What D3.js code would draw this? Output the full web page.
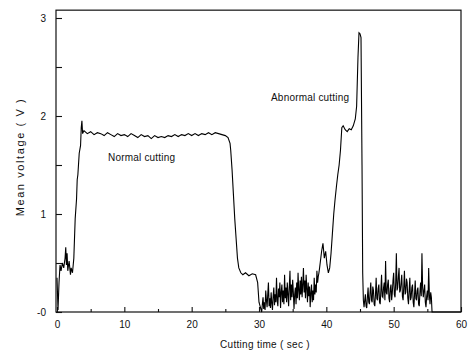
<!DOCTYPE html>
<html>
<head>
<meta charset="utf-8">
<script src="https://cdn.jsdelivr.net/npm/d3@7"></script>
<style>
  body { margin: 0; background: #fff; }
  svg text { font-family: "Liberation Sans", Arial, sans-serif; fill: #111; }
</style>
</head>
<body>
<script>
// start-up: sits near 0.4-0.6 then climbs to the cutting level
var startTime = [0, 0.15, 0.3, 0.45, 0.6, 0.8, 1.0, 1.2, 1.3, 1.4, 1.5, 1.6, 1.8, 2.0, 2.1, 2.3, 2.5, 2.7, 2.9, 3.0, 3.1, 3.3, 3.5, 3.6, 3.7, 3.8];
var startVolt = [0.35, 0.02, 0.30, 0.48, 0.42, 0.50, 0.45, 0.55, 0.66, 0.48, 0.60, 0.42, 0.52, 0.38, 0.45, 0.40, 0.55, 0.95, 1.15, 1.35, 1.40, 1.62, 1.70, 1.88, 1.95, 1.82];

// normal cutting plateau
var normalTime = [4.0, 4.5, 5.0, 5.5, 6.0, 6.5, 7.0, 7.5, 8.0, 8.5, 9.0, 9.5, 10, 10.5, 11, 11.5, 12, 12.5, 13, 13.5, 14, 14.5, 15, 15.5, 16, 16.5, 17, 17.5, 18, 18.5, 19, 19.5, 20, 20.5, 21, 21.5, 22, 22.5, 23, 23.5, 24, 24.5, 25, 25.4, 25.7];
var normalVolt = [1.85, 1.82, 1.84, 1.81, 1.83, 1.82, 1.80, 1.83, 1.81, 1.79, 1.82, 1.80, 1.81, 1.79, 1.82, 1.80, 1.78, 1.81, 1.79, 1.80, 1.77, 1.80, 1.78, 1.79, 1.78, 1.80, 1.79, 1.81, 1.79, 1.81, 1.80, 1.82, 1.80, 1.82, 1.80, 1.82, 1.81, 1.83, 1.81, 1.83, 1.82, 1.81, 1.80, 1.78, 1.72];

// tool leaves the work, low level, then idle noise
var dropTime = [25.8, 26.0, 26.2, 26.4, 26.6, 26.8, 27.0, 27.3, 27.6, 28.0, 28.5, 29.0, 29.5, 29.8, 30.0, 30.2];
var dropVolt = [1.65, 1.45, 1.20, 0.95, 0.75, 0.55, 0.45, 0.40, 0.38, 0.40, 0.37, 0.39, 0.38, 0.30, 0.10, 0.05];

var idleTime = [30.4, 30.5, 30.6, 30.7, 30.8, 30.9, 31.0, 31.1, 31.2, 31.3, 31.4, 31.5, 31.6, 31.7, 31.8, 31.9,
  32.0, 32.1, 32.2, 32.3, 32.4, 32.5, 32.6, 32.7, 32.8, 32.9, 33.0, 33.1, 33.2, 33.3, 33.4, 33.5, 33.6, 33.7, 33.8, 33.9,
  34.0, 34.1, 34.2, 34.3, 34.4, 34.5, 34.6, 34.7, 34.8, 34.9, 35.0, 35.1, 35.2, 35.3, 35.4, 35.5, 35.6, 35.7, 35.8, 35.9,
  36.0, 36.1, 36.2, 36.3, 36.4, 36.5, 36.6, 36.7, 36.8, 36.9, 37.0, 37.1, 37.2, 37.3, 37.4, 37.5, 37.6, 37.7, 37.8, 37.9,
  38.0, 38.1, 38.2, 38.3, 38.4, 38.5, 38.6, 38.7, 38.8, 38.9];
var idleVolt = [0.00, 0.08, 0.15, 0.03, 0.10, 0.02, 0.22, 0.12, 0.05, 0.18, 0.30, 0.06, 0.14, 0.04, 0.20, 0.09,
  0.02, 0.16, 0.25, 0.07, 0.18, 0.10, 0.35, 0.12, 0.06, 0.24, 0.15, 0.30, 0.04, 0.20, 0.28, 0.10, 0.22, 0.08, 0.38, 0.14,
  0.25, 0.10, 0.30, 0.18, 0.06, 0.26, 0.42, 0.12, 0.28, 0.15, 0.33, 0.20, 0.03, 0.18, 0.25, 0.08, 0.30, 0.14, 0.40, 0.22,
  0.12, 0.32, 0.18, 0.36, 0.15, 0.28, 0.45, 0.20, 0.32, 0.14, 0.38, 0.24, 0.10, 0.30, 0.16, 0.26, 0.05, 0.20, 0.28, 0.10,
  0.22, 0.12, 0.35, 0.18, 0.28, 0.20, 0.42, 0.30, 0.36, 0.40];

// abnormal cutting: step up, spike near 2.85 V, then collapse
var abnormalTime = [39.0, 39.3, 39.5, 39.7, 39.9, 40.1, 40.3, 40.5, 40.7, 40.9, 41.1, 41.3, 41.5, 41.7, 41.9, 42.1, 42.3, 42.5, 42.8, 43.1, 43.4, 43.7, 44.0, 44.3, 44.5, 44.7, 44.85, 45.0, 45.15, 45.3, 45.4, 45.5];
var abnormalVolt = [0.45, 0.62, 0.70, 0.55, 0.62, 0.48, 0.40, 0.45, 0.60, 0.80, 1.00, 1.15, 1.28, 1.40, 1.50, 1.65, 1.88, 1.90, 1.86, 1.84, 1.87, 1.86, 1.90, 1.97, 2.10, 2.60, 2.85, 2.84, 2.80, 1.50, 0.40, 0.12];

var tailTime = [45.6, 45.7, 45.8, 45.9, 46.0, 46.1, 46.2, 46.3, 46.4, 46.5, 46.6, 46.7, 46.8, 46.9,
  47.0, 47.1, 47.2, 47.3, 47.4, 47.5, 47.6, 47.7, 47.8, 47.9, 48.0, 48.1, 48.2, 48.3, 48.4, 48.5, 48.6, 48.7, 48.8, 48.9,
  49.0, 49.1, 49.2, 49.3, 49.4, 49.5, 49.6, 49.7, 49.8, 49.9, 50.0, 50.1, 50.2, 50.3, 50.4, 50.5, 50.6, 50.7, 50.8, 50.9,
  51.0, 51.1, 51.2, 51.3, 51.4, 51.5, 51.6, 51.7, 51.8, 51.9, 52.0, 52.1, 52.2, 52.3, 52.4, 52.5, 52.6, 52.7, 52.8, 52.9,
  53.0, 53.1, 53.2, 53.3, 53.4, 53.5, 53.6, 53.7, 53.8, 53.9, 54.0, 54.1, 54.2, 54.3, 54.4, 54.5, 54.6, 54.7, 54.8, 54.9,
  55.0, 55.1, 55.2, 55.3, 55.4, 55.5, 55.6, 55.7, 60];
var tailVolt = [0.05, 0.12, 0.18, 0.06, 0.04, 0.15, 0.25, 0.10, 0.08, 0.20, 0.30, 0.12, 0.10, 0.26,
  0.22, 0.08, 0.06, 0.18, 0.35, 0.14, 0.12, 0.24, 0.28, 0.10, 0.08, 0.22, 0.38, 0.16, 0.15, 0.25, 0.30, 0.12, 0.52, 0.20,
  0.18, 0.28, 0.33, 0.14, 0.10, 0.24, 0.28, 0.12, 0.20, 0.32, 0.40, 0.18, 0.15, 0.30, 0.60, 0.22, 0.25, 0.36, 0.45, 0.20,
  0.22, 0.30, 0.38, 0.16, 0.12, 0.26, 0.42, 0.18, 0.20, 0.34, 0.30, 0.14, 0.08, 0.22, 0.35, 0.12, 0.15, 0.25, 0.28, 0.10,
  0.05, 0.18, 0.32, 0.14, 0.12, 0.22, 0.25, 0.08, 0.06, 0.20, 0.30, 0.16, 0.60, 0.25, 0.15, 0.22, 0.28, 0.10, 0.05, 0.16,
  0.22, 0.12, 0.45, 0.18, 0.08, 0.20, 0.15, 0.0, 0.0];

var xTicks = [0, 10, 20, 30, 40, 50, 60];
var xMinor = [5, 15, 25, 35, 45, 55];
var yTicks = [0, 1, 2, 3];
var yTickLabels = ["-0", "1", "2", "3"];
var yMinor = [0.5, 1.5, 2.5];

var width = 470,
  height = 357;

var svg = d3
  .select("body")
  .append("svg")
  .attr("width", width)
  .attr("height", height);

var x = d3.scaleLinear().domain([0, 60]).range([57, 461]);
var y = d3.scaleLinear().domain([0, 3]).range([312, 18]);

// join the segments into one trace
var times = [].concat(startTime, normalTime, dropTime, idleTime, abnormalTime, tailTime);
var volts = [].concat(startVolt, normalVolt, dropVolt, idleVolt, abnormalVolt, tailVolt);
var trace = times.map(function (t, i) {
  return [t, volts[i]];
});

// frame
svg
  .append("rect")
  .attr("x", x(0) - 1)
  .attr("y", y(3.08))
  .attr("width", x(60) - x(0) + 1)
  .attr("height", y(0) - y(3.08))
  .attr("fill", "none")
  .attr("stroke", "#111")
  .attr("stroke-width", 1.2);

// inward ticks
var yAxis = d3.axisLeft(y).tickValues(yTicks).tickSize(-6).tickPadding(10)
  .tickFormat(function (d, i) { return yTickLabels[i]; });
svg.append("g").attr("transform", "translate(" + (x(0) - 1) + ",0)").call(yAxis);
svg.append("g").attr("transform", "translate(" + (x(0) - 1) + ",0)")
  .call(d3.axisLeft(y).tickValues(yMinor).tickSize(-6).tickFormat(""));

var xAxis = d3.axisBottom(x).tickValues(xTicks).tickSize(-5).tickPadding(9);
svg.append("g").attr("transform", "translate(0," + y(0) + ")").call(xAxis);
svg.append("g").attr("transform", "translate(0," + y(0) + ")")
  .call(d3.axisBottom(x).tickValues(xMinor).tickSize(-3).tickFormat(""));

svg.selectAll(".domain").remove();
svg.selectAll(".tick line").attr("stroke", "#111").attr("stroke-width", 1.1);
svg.selectAll(".tick text").style("font-size", "10px").attr("fill", "#111");

// voltage trace
var line = d3.line()
  .x(function (d) { return x(d[0]); })
  .y(function (d) { return y(d[1]); });

svg
  .append("path")
  .datum(trace)
  .attr("d", line)
  .attr("fill", "none")
  .attr("stroke", "#000")
  .attr("stroke-width", 1.1)
  .attr("stroke-linejoin", "miter");

// annotations
svg.append("text").attr("x", 108).attr("y", 161)
  .style("font-size", "10px").style("letter-spacing", "0.2px")
  .text("Normal cutting");
svg.append("text").attr("x", 271).attr("y", 101)
  .style("font-size", "10px").style("letter-spacing", "0.2px")
  .text("Abnormal cutting");

// axis titles
svg.append("text")
  .attr("transform", "translate(24,157) rotate(-90)")
  .attr("text-anchor", "middle")
  .style("font-size", "11px").style("letter-spacing", "1.6px")
  .text("Mean voltage ( V )");
svg.append("text")
  .attr("x", 265).attr("y", 348)
  .attr("text-anchor", "middle")
  .style("font-size", "10px").style("letter-spacing", "0.3px")
  .text("Cutting time ( sec )");
</script>
</body>
</html>
